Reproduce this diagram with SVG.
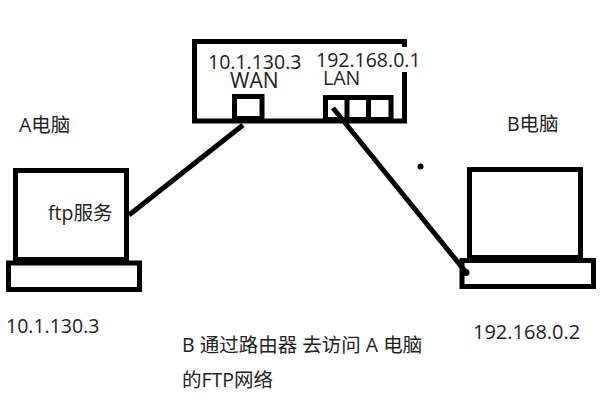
<svg xmlns="http://www.w3.org/2000/svg" width="600" height="400" viewBox="0 0 600 400">
<style>
.s{fill:none;stroke:#000;stroke-width:5}
.c{fill:none;stroke:#000;stroke-width:5}
text{font-family:"Open Sans","Noto Sans CJK SC",sans-serif;fill:#222}
.ip{font-size:19.500px}
.l{font-size:19.500px}
</style>
<rect width="600" height="400" fill="#fff"/>
<g id="router">
<path class="s" d="M404.500 47V41.500H194.500V121H404.500V72"/>
<rect class="s" x="234.500" y="96.500" width="27.500" height="22"/>
<rect class="s" x="325.500" y="97.500" width="65.500" height="22"/>
<path class="s" d="M347 98V119M368.500 98V119"/>
<text class="ip" x="208" y="69">10.1.130.3</text>
<text class="ip" x="316" y="67">192.168.0.1</text>
<text class="ip" x="230" y="88" style="font-size:21px">WAN</text>
<text class="ip" x="323" y="85">LAN</text>
</g>
<g id="pc-a">
<rect class="s" x="15.500" y="170.500" width="111" height="89"/>
<rect class="s" x="8.500" y="263" width="131" height="26.500"/>
<text class="l" x="19" y="132">A电脑</text>
<text class="l" x="48" y="220">ftp服务</text>
<text class="ip" x="6" y="333">10.1.130.3</text>
</g>
<g id="pc-b">
<rect class="s" x="469.500" y="169.500" width="111" height="88"/>
<rect class="s" x="462" y="260.500" width="131.500" height="26"/>
<text class="l" x="507" y="131">B电脑</text>
<text class="ip" x="473" y="339" style="font-size:20px">192.168.0.2</text>
</g>
<g id="connectors">
<path class="c" d="M129 215L243 125"/>
<path class="c" d="M333 108L465 271"/>
<circle cx="466" cy="272.500" r="3.500"/>
</g>
<circle cx="420.500" cy="166.500" r="3"/>
<g id="caption">
<text class="l" x="182" y="352">B 通过路由器 去访问 A 电脑</text>
<text class="l" x="182" y="387">的FTP网络</text>
</g>
</svg>
